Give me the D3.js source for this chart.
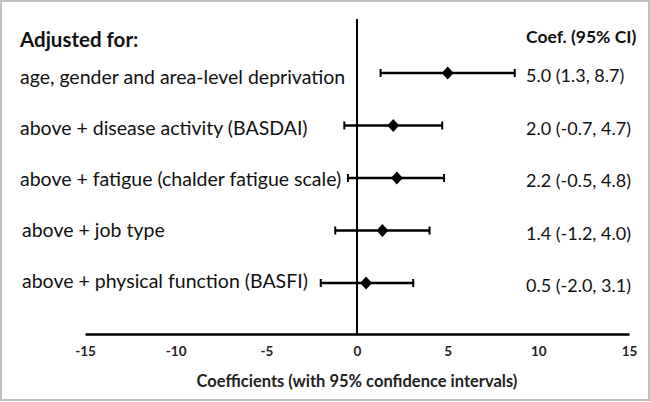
<!DOCTYPE html>
<html><head><meta charset="utf-8">
<script src="https://cdn.jsdelivr.net/npm/d3@7"></script>
<style>body{margin:0;background:#fff}svg{display:block}</style>
</head><body>
<svg id="c" width="650" height="402"></svg>
<script>
const labels = ["age, gender and area-level deprivation","above + disease activity (BASDAI)","above + fatigue (chalder fatigue scale)","above + job type","above + physical function (BASFI)"];
const coef = [5.0, 2.0, 2.2, 1.4, 0.5];
const lower = [1.3, -0.7, -0.5, -1.2, -2.0];
const upper = [8.7, 4.7, 4.8, 4.0, 3.1];
const ciText = ["5.0 (1.3, 8.7)","2.0 (-0.7, 4.7)","2.2 (-0.5, 4.8)","1.4 (-1.2, 4.0)","0.5 (-2.0, 3.1)"];
const xTicks = [-15,-10,-5,0,5,10,15];

const svg = d3.select("#c");
const font = "Lato, 'Open Sans', sans-serif";
svg.append("rect").attr("x",1).attr("y",1).attr("width",648).attr("height",399)
  .attr("fill","#fff").attr("stroke","#bfbfbf").attr("stroke-width",2);

const x = d3.scaleLinear().domain([-15,15]).range([85,629]);
const idx = d3.range(labels.length);
const y = d3.scalePoint().domain(idx).range([73,283]);
const yLab = d3.scalePoint().domain(idx).range([84,288]);
const yCi = d3.scalePoint().domain(idx).range([82,292]);
const axisY = 334;

// axis
const ax = svg.append("g").attr("transform",`translate(0,${axisY})`)
  .call(d3.axisBottom(x).tickValues(xTicks).tickSize(0).tickPadding(12).tickFormat(d => String(d)));
ax.select(".domain").attr("stroke","#000").attr("stroke-width",2.5);
ax.selectAll("text").attr("font-family",font).attr("font-weight","bold").attr("font-size",13.5).attr("fill","#222");

// zero line
svg.append("line").attr("x1",x(0)).attr("x2",x(0)).attr("y1",19).attr("y2",axisY)
  .attr("stroke","#000").attr("stroke-width",2);

const rows = svg.append("g").selectAll("g.row").data(idx).join("g");
rows.append("line").attr("x1",i=>x(lower[i])).attr("x2",i=>x(upper[i]))
  .attr("y1",i=>y(i)).attr("y2",i=>y(i)).attr("stroke","#000").attr("stroke-width",2.5);
rows.append("line").attr("x1",i=>x(lower[i])).attr("x2",i=>x(lower[i]))
  .attr("y1",i=>y(i)-4).attr("y2",i=>y(i)+4).attr("stroke","#000").attr("stroke-width",2);
rows.append("line").attr("x1",i=>x(upper[i])).attr("x2",i=>x(upper[i]))
  .attr("y1",i=>y(i)-4).attr("y2",i=>y(i)+4).attr("stroke","#000").attr("stroke-width",2);
rows.append("path").attr("d",d3.symbol().type(d3.symbolDiamond2).size(90))
  .attr("transform",i=>`translate(${x(coef[i])},${y(i)}) scale(1,1.1)`).attr("fill","#000");
rows.append("text").attr("x",i=> i>2 ? 22 : 20).attr("y",i=>yLab(i))
  .attr("font-family",font).attr("font-size",19.5).attr("fill","#111").text(i=>labels[i]);
rows.append("text").attr("x",526).attr("y",i=>yCi(i))
  .attr("font-family",font).attr("font-size",18).attr("fill","#111").text(i=>ciText[i]);

svg.append("text").attr("x",20).attr("y",47).attr("font-family",font).attr("font-weight","bold")
  .attr("font-size",20.5).attr("fill","#111").text("Adjusted for:");
svg.append("text").attr("x",526).attr("y",43).attr("font-family",font).attr("font-weight","bold")
  .attr("font-size",17.5).attr("fill","#111").text("Coef. (95% CI)");
svg.append("text").attr("x",x(0)).attr("y",387).attr("text-anchor","middle").attr("font-family",font)
  .attr("font-weight","bold").attr("font-size",16.5).attr("fill","#222")
  .text("Coefficients (with 95% confidence intervals)");
</script>
</body></html>
